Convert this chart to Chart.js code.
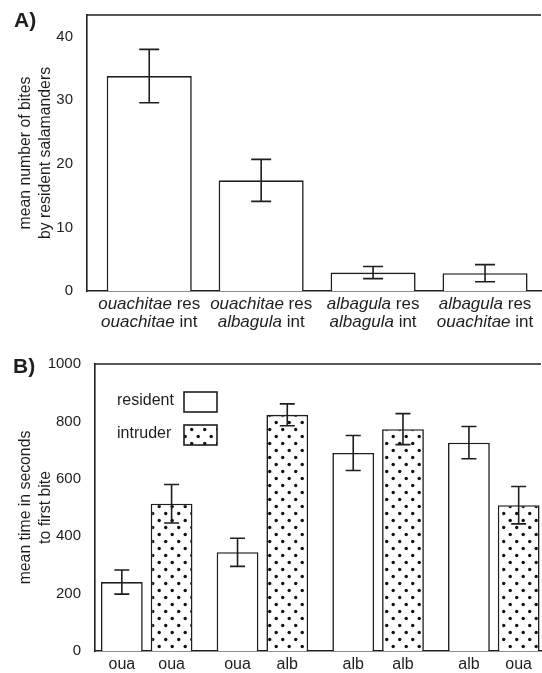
<!DOCTYPE html>
<html>
<head>
<meta charset="utf-8">
<script src="https://cdn.jsdelivr.net/npm/chart.js@4"></script>
<style>
  html, body { margin: 0; padding: 0; background: #fff; }
  body { width: 542px; height: 673px; position: relative; overflow: hidden; font-family: 'Liberation Sans', Arial, sans-serif; }
  canvas { position: absolute; left: 0; }
  #chartA { top: 0; }
  #chartB { top: 335px; }
  .tag { position: absolute; font-weight: bold; font-size: 21px; line-height: 21px; color: #1e1e1e; }
</style>
</head>
<body>
<canvas id="chartA" width="542" height="335"></canvas>
<canvas id="chartB" width="542" height="338"></canvas>
<div class="tag" style="left:14px;top:9px">A)</div>
<div class="tag" style="left:13px;top:355px">B)</div>
<script>
/* Salamander aggression: A) bites per pairing, B) latency to first bite (resident vs intruder) */

const INK = '#1e1e1e';
const FONT = "'Liberation Sans', Arial, sans-serif";

// panel A
const A_RES = ['ouachitae', 'ouachitae', 'albagula', 'albagula'];
const A_INT = ['ouachitae', 'albagula', 'albagula', 'ouachitae'];
const A_BITES = [33.8, 17.4, 2.9, 2.8];
const A_BITES_SE = [4.2, 3.3, 0.95, 1.35];
const A_TICKS = [0, 10, 20, 30, 40];

// panel B
const B_RES_CODE = ['oua', 'oua', 'alb', 'alb'];
const B_INT_CODE = ['oua', 'alb', 'alb', 'oua'];
const B_RES_TIME = [240, 344, 690, 726];
const B_RES_SE = [42, 49, 61, 56];
const B_INT_TIME = [513, 823, 773, 508];
const B_INT_SE = [67, 38, 54, 65];
const B_TICKS = [0, 200, 400, 600, 800, 1000];

function dotPattern() {
  const c = document.createElement('canvas');
  c.width = 13; c.height = 14;
  const g = c.getContext('2d');
  g.fillStyle = '#fff';
  g.fillRect(0, 0, 13, 14);
  g.fillStyle = '#111';
  [[3.2, 3.5], [9.7, 10.5]].forEach(([x, y]) => { g.beginPath(); g.arc(x, y, 1.7, 0, Math.PI * 2); g.fill(); });
  return g.createPattern(c, 'repeat');
}

const errorBars = {
  id: 'errorBars',
  afterDatasetsDraw(chart, args, opts) {
    const { ctx } = chart;
    const y = chart.scales.y;
    ctx.save();
    ctx.strokeStyle = INK;
    ctx.lineWidth = 1.6;
    chart.data.datasets.forEach((ds, di) => {
      chart.getDatasetMeta(di).data.forEach((bar, i) => {
        const v = ds.data[i].y, e = ds.errors[i];
        const top = y.getPixelForValue(v + e), bot = y.getPixelForValue(v - e);
        const h = opts.cap / 2;
        ctx.beginPath();
        ctx.moveTo(bar.x, top); ctx.lineTo(bar.x, bot);
        ctx.moveTo(bar.x - h, top); ctx.lineTo(bar.x + h, top);
        ctx.moveTo(bar.x - h, bot); ctx.lineTo(bar.x + h, bot);
        ctx.stroke();
      });
    });
    ctx.restore();
  },
};

const frameTop = {
  id: 'frameTop',
  afterDraw(chart) {
    const { ctx, chartArea: a } = chart;
    ctx.save();
    ctx.strokeStyle = INK;
    ctx.lineWidth = 1.6;
    ctx.beginPath();
    ctx.moveTo(a.left, a.top); ctx.lineTo(a.right, a.top);
    ctx.stroke();
    ctx.restore();
  },
};

function drawMixed(ctx, parts, cx, cy, size) {
  const fonts = parts.map((p) => `${p[1]} ${size}px ${FONT}`);
  const widths = parts.map((p, i) => { ctx.font = fonts[i]; return ctx.measureText(p[0]).width; });
  let x = cx - widths.reduce((s, w) => s + w, 0) / 2;
  ctx.textAlign = 'left';
  ctx.textBaseline = 'middle';
  parts.forEach((p, i) => { ctx.font = fonts[i]; ctx.fillText(p[0], x, cy); x += widths[i]; });
}

const speciesLabels = {
  id: 'speciesLabels',
  afterDraw(chart) {
    const { ctx, chartArea } = chart;
    ctx.save();
    ctx.fillStyle = INK;
    chart.getDatasetMeta(0).data.forEach((bar, i) => {
      drawMixed(ctx, [[A_RES[i], 'italic'], [' res', 'normal']], bar.x, chartArea.bottom + 13, 17);
      drawMixed(ctx, [[A_INT[i], 'italic'], [' int', 'normal']], bar.x, chartArea.bottom + 31, 17);
    });
    ctx.restore();
  },
};

const codeLabels = {
  id: 'codeLabels',
  afterDraw(chart) {
    const { ctx, chartArea } = chart;
    ctx.save();
    ctx.fillStyle = INK;
    ctx.font = `16px ${FONT}`;
    ctx.textAlign = 'center';
    ctx.textBaseline = 'middle';
    chart.data.datasets.forEach((ds, di) => {
      chart.getDatasetMeta(di).data.forEach((bar, i) => ctx.fillText(ds.codes[i], bar.x, chartArea.bottom + 14));
    });
    ctx.restore();
  },
};

const boxLegend = {
  id: 'boxLegend',
  afterDraw(chart) {
    const { ctx, chartArea: { left, top } } = chart;
    ctx.save();
    chart.data.datasets.forEach((ds, i) => {
      const by = top + 28 + i * 33;
      ctx.fillStyle = INK;
      ctx.font = `16px ${FONT}`;
      ctx.textAlign = 'left';
      ctx.textBaseline = 'middle';
      ctx.fillText(ds.label, left + 22, by + 9);
      ctx.fillStyle = ds.backgroundColor;
      ctx.fillRect(left + 89, by, 33, 20);
      ctx.strokeStyle = INK;
      ctx.lineWidth = 1.6;
      ctx.strokeRect(left + 89, by, 33, 20);
    });
    ctx.restore();
  },
};

function yAxis(ticks, max, width, title) {
  return {
    min: 0, max,
    grid: { display: false },
    border: { color: INK, width: 1.6 },
    ticks: { padding: 6, color: INK, font: { family: FONT, size: 15 }, callback: (v) => String(v) },
    afterBuildTicks: (s) => { s.ticks = ticks.map((v) => ({ value: v })); },
    afterFit: (s) => { s.width = width; },
    title: { display: true, text: title, color: INK, font: { family: FONT, size: 15.8, lineHeight: 1.25 }, padding: { top: 16 } },
  };
}

function xAxis(min, max, height, n) {
  return {
    type: 'linear', offset: false, min, max,
    grid: { display: false },
    border: { color: INK, width: 1.6 },
    ticks: { display: false },
    afterBuildTicks: (s) => { s.ticks = Array.from({ length: n }, (_, i) => ({ value: i })); },
    afterFit: (s) => { s.height = height; },
  };
}

new Chart(document.getElementById('chartA'), {
  type: 'bar',
  data: {
    datasets: [{
      data: A_BITES.map((v, i) => ({ x: i, y: v })),
      errors: A_BITES_SE,
      backgroundColor: '#fff', borderColor: INK, borderWidth: 1.6,
      categoryPercentage: 1, barPercentage: 0.76,
    }],
  },
  options: {
    responsive: false, animation: false,
    layout: { padding: { top: 8, right: 1, left: 0, bottom: 0 } },
    plugins: { legend: { display: false }, tooltip: { enabled: false }, errorBars: { cap: 20 } },
    scales: {
      x: xAxis(-0.556, 3.5, 44, A_BITES.length),
      y: yAxis(A_TICKS, 43.4, 87, ['mean number of bites', 'by resident salamanders']),
    },
  },
  plugins: [errorBars, frameTop, speciesLabels],
});

const dots = dotPattern();

new Chart(document.getElementById('chartB'), {
  type: 'bar',
  data: {
    datasets: [
      {
        label: 'resident', codes: B_RES_CODE, errors: B_RES_SE,
        data: B_RES_TIME.map((v, i) => ({ x: i, y: v })),
        backgroundColor: '#fff', borderColor: INK, borderWidth: 1.6,
        categoryPercentage: 0.86, barPercentage: 0.84,
      },
      {
        label: 'intruder', codes: B_INT_CODE, errors: B_INT_SE,
        data: B_INT_TIME.map((v, i) => ({ x: i, y: v })),
        backgroundColor: dots, borderColor: INK, borderWidth: 1.6,
        categoryPercentage: 0.86, barPercentage: 0.84,
      },
    ],
  },
  options: {
    responsive: false, animation: false,
    layout: { padding: { top: 29, right: 1, left: 0, bottom: 0 } },
    plugins: { legend: { display: false }, tooltip: { enabled: false }, errorBars: { cap: 15 } },
    scales: {
      x: xAxis(-0.447, 3.408, 22, B_RES_TIME.length),
      y: yAxis(B_TICKS, 1000, 95, ['mean time in seconds', 'to first bite']),
    },
  },
  plugins: [errorBars, frameTop, boxLegend, codeLabels],
});
</script>
</body>
</html>
